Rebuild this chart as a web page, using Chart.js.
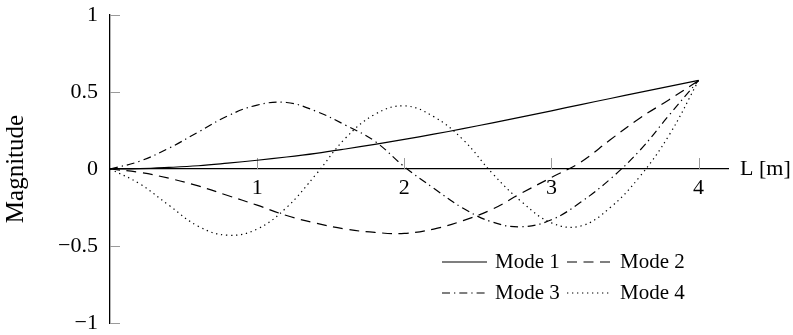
<!DOCTYPE html>
<html>
<head>
<meta charset="utf-8">
<title>Mode shapes</title>
<script src="https://cdn.jsdelivr.net/npm/chart.js@4.4.1/dist/chart.umd.min.js"></script>
<style>
  html, body { margin: 0; padding: 0; background: #fff; }
</style>
</head>
<body>
<canvas id="modes" width="793" height="335"></canvas>
<script>
// position along the beam, L [m]
const positions = [0, 0.2, 0.4, 0.6, 0.8, 1.0, 1.2, 1.4, 1.6, 1.8, 2.0, 2.2, 2.4, 2.6, 2.8, 3.0, 3.2, 3.4, 3.6, 3.8, 4.0];

// normalised mode shapes
const mode1 = [0, 0.002, 0.01, 0.021, 0.038, 0.057, 0.078, 0.102, 0.13, 0.16, 0.192, 0.226, 0.262, 0.3, 0.338, 0.378, 0.418, 0.458, 0.497, 0.536, 0.575];
const mode2 = [0, -0.022, -0.06, -0.11, -0.172, -0.235, -0.302, -0.352, -0.39, -0.412, -0.418, -0.39, -0.335, -0.26, -0.155, -0.055, 0.045, 0.19, 0.33, 0.45, 0.575];
const mode3 = [0, 0.05, 0.135, 0.24, 0.345, 0.415, 0.432, 0.375, 0.285, 0.18, 0.015, -0.125, -0.255, -0.345, -0.375, -0.33, -0.215, -0.065, 0.12, 0.35, 0.575];
const mode4 = [0, -0.095, -0.235, -0.372, -0.43, -0.39, -0.25, -0.035, 0.2, 0.355, 0.41, 0.34, 0.19, -0.03, -0.215, -0.35, -0.37, -0.25, -0.05, 0.22, 0.575];

const modeLabels = ['Mode 1', 'Mode 2', 'Mode 3', 'Mode 4'];
const xTicks = [1, 2, 3, 4];
const yTicks = [-1, -0.5, 0, 0.5, 1];

const serif = "'Liberation Serif', 'Times New Roman', serif";
const dashes = [[], [10, 6.5], [8, 4, 1.3, 4], [1.3, 3.7]];

function toPoints(values) {
    return positions.map((x, i) => ({ x: x, y: values[i] }));
}

// small grey tick marks on the inside of both axes
const innerTicks = {
    id: 'innerTicks',
    beforeDatasetsDraw(chart) {
        const { ctx, scales: { x, y } } = chart;
        const y0 = y.getPixelForValue(0);
        ctx.save();
        ctx.strokeStyle = '#9a9a9a';
        ctx.lineWidth = 1;
        ctx.beginPath();
        xTicks.forEach(v => {
            const px = Math.round(x.getPixelForValue(v)) + 0.5;
            ctx.moveTo(px, y0);
            ctx.lineTo(px, y0 - 11);
        });
        yTicks.forEach(v => {
            if (v === 0) return;
            const py = Math.round(y.getPixelForValue(v)) + 0.5;
            ctx.moveTo(chart.chartArea.left, py);
            ctx.lineTo(chart.chartArea.left + 10, py);
        });
        ctx.stroke();
        ctx.restore();
    },
    afterDraw(chart) {
        // axis name at the end of the x axis
        const { ctx, scales: { x, y } } = chart;
        ctx.save();
        ctx.font = '22px ' + serif;
        ctx.fillStyle = '#000';
        ctx.textAlign = 'left';
        ctx.textBaseline = 'middle';
        ctx.fillText('L [m]', x.right + 12, y.getPixelForValue(0));
        ctx.restore();
    }
};

// two-column legend without frame
const modeLegend = {
    id: 'modeLegend',
    afterDraw(chart, args, opts) {
        const ctx = chart.ctx;
        ctx.save();
        ctx.font = opts.font;
        ctx.textAlign = 'left';
        ctx.textBaseline = 'middle';
        chart.data.datasets.forEach((ds, i) => {
            const col = i % 2;
            const row = Math.floor(i / 2);
            const x0 = opts.left + col * opts.colWidth;
            const y0 = opts.top + row * opts.rowHeight;
            ctx.beginPath();
            ctx.setLineDash(ds.borderDash || []);
            ctx.lineWidth = ds.borderWidth;
            ctx.strokeStyle = ds.borderColor;
            ctx.moveTo(x0, y0);
            ctx.lineTo(x0 + opts.sample, y0);
            ctx.stroke();
            ctx.setLineDash([]);
            ctx.fillStyle = '#000';
            ctx.fillText(ds.label, x0 + opts.sample + opts.gap, y0);
        });
        ctx.restore();
    }
};

const ctx = document.getElementById('modes').getContext('2d');

new Chart(ctx, {
    type: 'line',
    data: {
        datasets: [mode1, mode2, mode3, mode4].map((values, i) => ({
            label: modeLabels[i],
            data: toPoints(values),
            borderColor: '#000',
            borderWidth: 1.2,
            borderDash: dashes[i],
            pointRadius: 0,
            fill: false,
            tension: 0.4
        }))
    },
    options: {
        responsive: false,
        animation: false,
        devicePixelRatio: 1,
        layout: { padding: { top: 15, right: 65, bottom: 12, left: 0 } },
        plugins: {
            legend: { display: false },
            tooltip: { enabled: false },
            modeLegend: {
                font: '21px ' + serif,
                left: 442,
                top: 262,
                colWidth: 125,
                rowHeight: 31,
                sample: 45,
                gap: 8
            }
        },
        scales: {
            x: {
                type: 'linear',
                min: 0,
                max: 4.2,
                position: { y: 0 },
                afterBuildTicks: s => { s.ticks = xTicks.map(v => ({ value: v })); },
                afterFit: s => { s.paddingLeft = 0; s.paddingRight = 0; },
                grid: { display: true, drawOnChartArea: false, drawTicks: false },
                border: { display: true, color: '#000', width: 1.3 },
                ticks: {
                    padding: 8,
                    color: '#000',
                    maxRotation: 0,
                    autoSkip: false,
                    font: { family: serif, size: 22, lineHeight: 1 },
                    callback: v => String(v)
                }
            },
            y: {
                type: 'linear',
                min: -1,
                max: 1,
                position: 'left',
                afterFit: s => { s.width = 110; s.paddingTop = 0; s.paddingBottom = 0; },
                afterBuildTicks: s => { s.ticks = yTicks.map(v => ({ value: v })); },
                grid: { display: true, drawOnChartArea: false, drawTicks: false },
                border: { display: true, color: '#000', width: 1.3 },
                ticks: {
                    padding: 12,
                    color: '#000',
                    font: { family: serif, size: 22, lineHeight: 1 },
                    callback: v => v < 0 ? '\u2212' + Math.abs(v) : String(v)
                },
                title: {
                    display: true,
                    text: 'Magnitude',
                    color: '#000',
                    font: { family: serif, size: 25 },
                    padding: { top: 1, bottom: 0 }
                }
            }
        }
    },
    plugins: [innerTicks, modeLegend]
});
</script>
</body>
</html>
